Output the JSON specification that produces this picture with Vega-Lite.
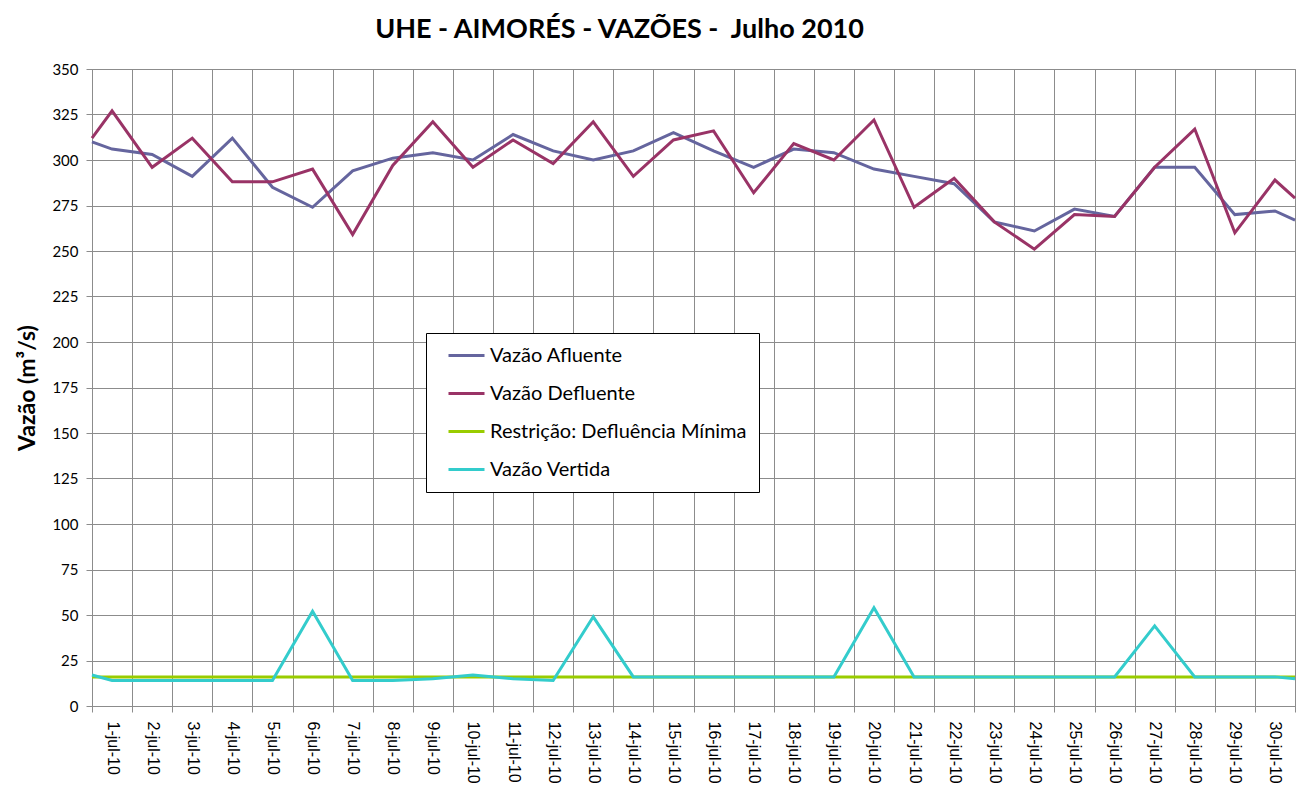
{
  "$schema": "https://vega.github.io/schema/vega-lite/v6.json",
  "width": 1203,
  "height": 637,
  "autosize": {"type": "none"},
  "padding": {"left": 92, "top": 69, "right": 20, "bottom": 104},
  "background": "white",
  "title": {"text": "UHE - AIMORÉS - VAZÕES -\u00a0 Julho 2010", "font": "Lato", "fontSize": 27, "fontWeight": "bold", "color": "black", "anchor": "middle", "dx": -74, "offset": 18},
  "config": {"view": {"stroke": "#8c8c8c"}},
  "data": {"values": [
    {"pos": 0, "afluente": 310, "defluente": 312, "restricao": 16, "vertida": 17},
    {"pos": 0.5, "afluente": 306, "defluente": 327, "restricao": 16, "vertida": 14},
    {"pos": 1.5, "afluente": 303, "defluente": 296, "restricao": 16, "vertida": 14},
    {"pos": 2.5, "afluente": 291, "defluente": 312, "restricao": 16, "vertida": 14},
    {"pos": 3.5, "afluente": 312, "defluente": 288, "restricao": 16, "vertida": 14},
    {"pos": 4.5, "afluente": 285, "defluente": 288, "restricao": 16, "vertida": 14},
    {"pos": 5.5, "afluente": 274, "defluente": 295, "restricao": 16, "vertida": 52},
    {"pos": 6.5, "afluente": 294, "defluente": 259, "restricao": 16, "vertida": 14},
    {"pos": 7.5, "afluente": 301, "defluente": 297, "restricao": 16, "vertida": 14},
    {"pos": 8.5, "afluente": 304, "defluente": 321, "restricao": 16, "vertida": 15},
    {"pos": 9.5, "afluente": 300, "defluente": 296, "restricao": 16, "vertida": 17},
    {"pos": 10.5, "afluente": 314, "defluente": 311, "restricao": 16, "vertida": 15},
    {"pos": 11.5, "afluente": 305, "defluente": 298, "restricao": 16, "vertida": 14},
    {"pos": 12.5, "afluente": 300, "defluente": 321, "restricao": 16, "vertida": 49},
    {"pos": 13.5, "afluente": 305, "defluente": 291, "restricao": 16, "vertida": 16},
    {"pos": 14.5, "afluente": 315, "defluente": 311, "restricao": 16, "vertida": 16},
    {"pos": 15.5, "afluente": 305, "defluente": 316, "restricao": 16, "vertida": 16},
    {"pos": 16.5, "afluente": 296, "defluente": 282, "restricao": 16, "vertida": 16},
    {"pos": 17.5, "afluente": 306, "defluente": 309, "restricao": 16, "vertida": 16},
    {"pos": 18.5, "afluente": 304, "defluente": 300, "restricao": 16, "vertida": 16},
    {"pos": 19.5, "afluente": 295, "defluente": 322, "restricao": 16, "vertida": 54},
    {"pos": 20.5, "afluente": 291, "defluente": 274, "restricao": 16, "vertida": 16},
    {"pos": 21.5, "afluente": 287, "defluente": 290, "restricao": 16, "vertida": 16},
    {"pos": 22.5, "afluente": 266, "defluente": 266, "restricao": 16, "vertida": 16},
    {"pos": 23.5, "afluente": 261, "defluente": 251, "restricao": 16, "vertida": 16},
    {"pos": 24.5, "afluente": 273, "defluente": 270, "restricao": 16, "vertida": 16},
    {"pos": 25.5, "afluente": 269, "defluente": 269, "restricao": 16, "vertida": 16},
    {"pos": 26.5, "afluente": 296, "defluente": 296, "restricao": 16, "vertida": 44},
    {"pos": 27.5, "afluente": 296, "defluente": 317, "restricao": 16, "vertida": 16},
    {"pos": 28.5, "afluente": 270, "defluente": 260, "restricao": 16, "vertida": 16},
    {"pos": 29.5, "afluente": 272, "defluente": 289, "restricao": 16, "vertida": 16},
    {"pos": 30, "afluente": 267, "defluente": 279, "restricao": 16, "vertida": 15}
  ]},
  "transform": [{"fold": ["afluente", "defluente", "restricao", "vertida"], "as": ["serie", "valor"]}],
  "layer": [
    {
      "mark": {"type": "line", "strokeWidth": 3},
      "encoding": {
        "x": {"field": "pos", "type": "quantitative",
          "scale": {"domain": [0, 30], "nice": false, "zero": false},
          "axis": {"orient": "bottom", "values": [0,1,2,3,4,5,6,7,8,9,10,11,12,13,14,15,16,17,18,19,20,21,22,23,24,25,26,27,28,29,30],
            "grid": true, "gridColor": "#8c8c8c", "gridOpacity": 1, "labels": false, "ticks": true, "tickSize": 6,
            "tickColor": "#8c8c8c", "domainColor": "#8c8c8c", "title": null}},
        "y": {"field": "valor", "type": "quantitative",
          "scale": {"domain": [0, 350], "nice": false},
          "axis": {"values": [0,25,50,75,100,125,150,175,200,225,250,275,300,325,350],
            "grid": true, "gridColor": "#8c8c8c", "gridOpacity": 1, "tickColor": "#8c8c8c", "tickSize": 6,
            "domainColor": "#8c8c8c", "labelFont": "Lato", "labelFontSize": 15, "labelColor": "black", "labelPadding": 8,
            "title": "Vazão (m³/s)", "titleFont": "Lato", "titleFontSize": 23, "titleFontWeight": "bold", "titleColor": "black", "titlePadding": 12}},
        "color": {"field": "serie", "type": "nominal",
          "scale": {"domain": ["afluente", "defluente", "restricao", "vertida"], "range": ["#65659E", "#993366", "#99CC00", "#33CCCC"]},
          "legend": {"orient": "none", "legendX": 334, "legendY": 264, "title": null,
            "strokeColor": "black", "fillColor": "white", "padding": 12,
            "symbolType": "M0,0H4", "symbolSize": 324, "symbolStrokeWidth": 3,
            "labelFont": "Lato", "labelFontSize": 20, "labelColor": "black", "labelOffset": 31, "rowPadding": 17, "labelLimit": 500,
            "labelExpr": "{'afluente': 'Vazão Afluente', 'defluente': 'Vazão Defluente', 'restricao': 'Restrição: Defluência Mínima', 'vertida': 'Vazão Vertida'}[datum.label]"}}
      }
    },
    {
      "mark": {"type": "point", "opacity": 0},
      "encoding": {
        "x": {"field": "pos", "type": "quantitative",
          "axis": {"orient": "bottom", "values": [0.5,1.5,2.5,3.5,4.5,5.5,6.5,7.5,8.5,9.5,10.5,11.5,12.5,13.5,14.5,15.5,16.5,17.5,18.5,19.5,20.5,21.5,22.5,23.5,24.5,25.5,26.5,27.5,28.5,29.5],
            "grid": false, "ticks": false, "domain": false, "labelAngle": 90, "labelFont": "Liberation Sans", "labelFontSize": 16,
            "labelColor": "black", "labelPadding": 15, "labelOverlap": false, "labelFlush": false,
            "labelExpr": "floor(datum.value + 0.5) + '-jul-10'", "title": null}},
        "y": {"field": "valor", "type": "quantitative"}
      }
    }
  ],
  "resolve": {"axis": {"x": "independent"}}
}
